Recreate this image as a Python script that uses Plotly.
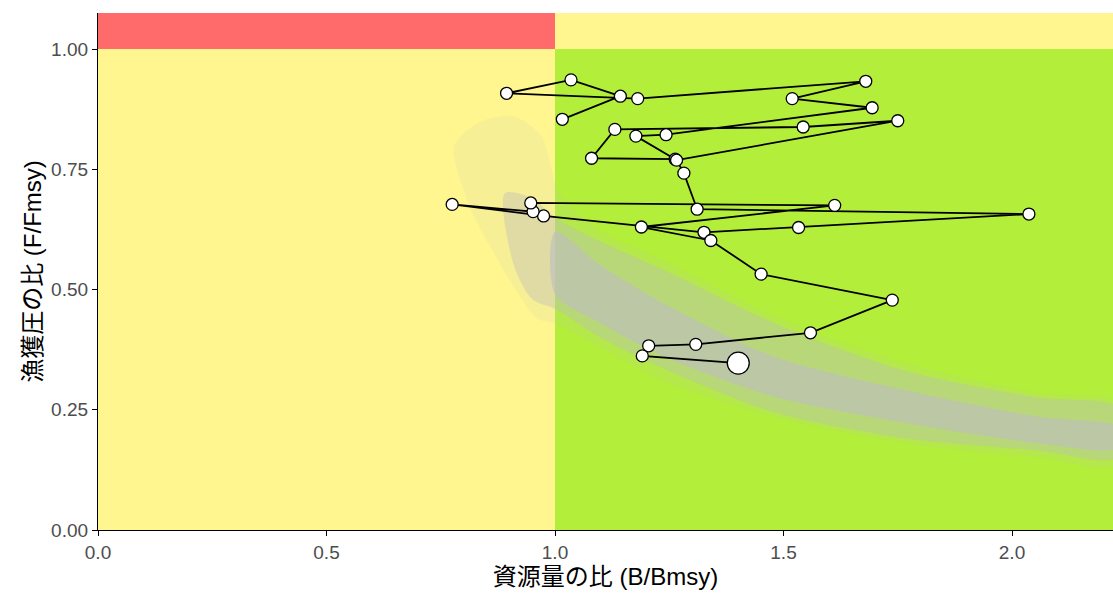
import plotly.graph_objects as go

# ---- data ----
b_ratio = [1.016, 1.143, 1.035, 0.894, 1.181, 1.680, 1.519, 1.694, 1.243, 1.177,
           1.263, 1.080, 1.131, 1.543, 1.750, 1.266, 1.282, 1.311, 2.037, 1.533,
           1.326, 0.975, 0.775, 0.952, 0.947, 1.612, 1.189, 1.341, 1.451, 1.738,
           1.559, 1.308, 1.205, 1.191, 1.401]
f_ratio = [0.854, 0.902, 0.936, 0.908, 0.897, 0.933, 0.897, 0.878, 0.822, 0.819,
           0.771, 0.773, 0.833, 0.838, 0.851, 0.769, 0.742, 0.667, 0.657, 0.629,
           0.619, 0.653, 0.677, 0.662, 0.680, 0.675, 0.630, 0.602, 0.532, 0.478,
           0.410, 0.386, 0.383, 0.362, 0.347]

# uncertainty cloud outlines (outer faint halo, middle, dense core)
cloud_outer_x = [0.78, 0.84, 0.91, 0.97, 1.01, 1.10, 1.24, 1.48, 1.77, 2.06, 2.23,
                 2.23, 2.06, 1.77, 1.48, 1.24, 1.10, 1.00, 0.96, 0.92, 0.87, 0.81]
cloud_outer_y = [0.80, 0.85, 0.86, 0.82, 0.70, 0.62, 0.56, 0.445, 0.345, 0.285, 0.265,
                 0.135, 0.15, 0.18, 0.235, 0.31, 0.38, 0.43, 0.44, 0.49, 0.57, 0.68]
cloud_mid_x = [0.89, 0.95, 1.00, 1.10, 1.24, 1.48, 1.77, 2.06, 2.23,
               2.23, 2.06, 1.77, 1.48, 1.24, 1.10, 1.00, 0.95, 0.91]
cloud_mid_y = [0.70, 0.69, 0.65, 0.60, 0.54, 0.43, 0.33, 0.275, 0.255,
               0.15, 0.165, 0.19, 0.245, 0.335, 0.40, 0.46, 0.48, 0.55]
cloud_core_x = [1.00, 1.10, 1.24, 1.48, 1.77, 2.06, 2.23,
                2.23, 2.06, 1.77, 1.48, 1.24, 1.10, 1.00]
cloud_core_y = [0.62, 0.55, 0.47, 0.36, 0.29, 0.235, 0.215,
                0.17, 0.18, 0.222, 0.277, 0.36, 0.43, 0.49]

x_ticks = [0.0, 0.5, 1.0, 1.5, 2.0]
x_tick_labels = ["0.0", "0.5", "1.0", "1.5", "2.0"]
y_ticks = [0.0, 0.25, 0.5, 0.75, 1.0]
y_tick_labels = ["0.00", "0.25", "0.50", "0.75", "1.00"]

X_MAX = 2.221
Y_MAX = 1.075

RED = "rgb(255,106,106)"
YELLOW = "rgb(255,246,143)"
GREEN = "rgb(179,238,58)"

fig = go.Figure()

# ---- background zones ----
zones = [
    (0, 1, 1, Y_MAX, RED),
    (0, 0, 1, 1, YELLOW),
    (1, 1, X_MAX, Y_MAX, YELLOW),
    (1, 0, X_MAX, 1, GREEN),
]
for x0, y0, x1, y1, c in zones:
    fig.add_shape(type="rect", xref="x", yref="y", x0=x0, y0=y0, x1=x1, y1=y1,
                  fillcolor=c, line=dict(width=0), layer="below")

# ---- cloud ----
for cx, cy, a in [(cloud_outer_x, cloud_outer_y, 0.13),
                  (cloud_mid_x, cloud_mid_y, 0.4),
                  (cloud_core_x, cloud_core_y, 0.65)]:
    fig.add_trace(go.Scatter(x=cx + [cx[0]], y=cy + [cy[0]], mode="lines",
                             fill="toself", fillcolor=f"rgba(190,190,190,{a})",
                             line=dict(width=0, color="rgba(0,0,0,0)", shape="spline",
                                       smoothing=0.8),
                             hoverinfo="skip", showlegend=False))

# ---- trajectory ----
n = len(b_ratio)
sizes = [12] * (n - 1) + [22]
fig.add_trace(go.Scatter(x=b_ratio, y=f_ratio, mode="lines+markers",
                         line=dict(color="black", width=1.8),
                         marker=dict(size=sizes, color="white", opacity=1,
                                     line=dict(color="black", width=1.3)),
                         showlegend=False))

TITLE_FONT = dict(size=24, color="black",
                  family="Liberation Sans, Noto Sans CJK JP, sans-serif")
TICK_FONT = dict(size=19, color="#4D4D4D", family="Liberation Sans, sans-serif")

fig.update_layout(
    width=1113, height=594,
    margin=dict(l=98, r=0, t=13, b=64),
    paper_bgcolor="white", plot_bgcolor="white",
    font=dict(family="Liberation Sans, Noto Sans CJK JP, sans-serif", color="black"),
    showlegend=False,
)
fig.update_xaxes(range=[0, X_MAX], tickvals=x_ticks, ticktext=x_tick_labels,
                 showgrid=False, zeroline=False, showline=True, linecolor="black",
                 linewidth=1.3, ticks="outside", ticklen=5, tickcolor="black",
                 tickfont=TICK_FONT,
                 title=dict(text="資源量の比 (B/Bmsy)", standoff=0, font=TITLE_FONT))
fig.update_yaxes(range=[0, Y_MAX], tickvals=y_ticks, ticktext=y_tick_labels,
                 showgrid=False, zeroline=False, showline=True, linecolor="black",
                 linewidth=1.3, ticks="outside", ticklen=5, tickcolor="black",
                 tickfont=TICK_FONT,
                 title=dict(text="漁獲圧の比 (F/Fmsy)", standoff=2, font=TITLE_FONT))

fig.write_html("out.html",
               config={"displayModeBar": False},
               post_script="document.body.style.margin='0';"
                           "document.body.style.overflow='hidden';")
